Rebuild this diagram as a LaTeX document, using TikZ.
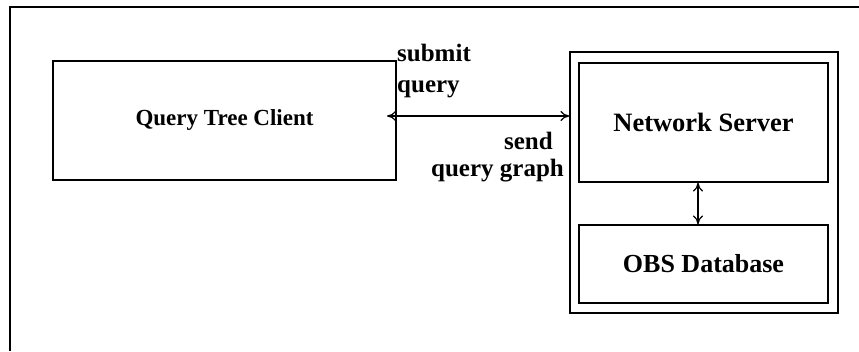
\documentclass[tikz,border=0pt]{standalone}
\usepackage{fontspec}
\setmainfont{Liberation Serif}
\usetikzlibrary{arrows.meta}
\begin{document}
\begin{tikzpicture}[x=1pt,y=1pt,
  box/.style={draw,line width=1.1pt,inner sep=0pt},
  lbl/.style={inner sep=0pt,font=\bfseries\fontsize{25}{29}\selectfont},
  link/.style={line width=1.2pt,{To[length=9pt,width=10pt]}-{To[length=9pt,width=10pt]}}]
\useasboundingbox (0,0) rectangle (859,351);
% frame around the whole figure
\draw[line width=1.4pt] (859,344) -- (10,344) -- (10,0);
% client
\node[box,minimum width=343pt,minimum height=119pt,font=\bfseries\fontsize{23}{27}\selectfont] (client) at (224.5,230.5) {Query Tree Client};
% server side
\node[box,minimum width=268pt,minimum height=261pt] (server) at (704,168.5) {};
\node[box,minimum width=249pt,minimum height=119pt,font=\bfseries\fontsize{26.5}{30}\selectfont] (net) at (703.5,228.5) {Network Server};
\node[box,minimum width=249pt,minimum height=78pt,font=\bfseries\fontsize{26}{30}\selectfont] (obs) at (703.5,87) {OBS Database};
% connectors
\coordinate (cl) at (387,235);
\draw[link] (cl) -- (cl -| server.west);
\draw[link] (698,0 |- net.south) -- (698,0 |- obs.north);
% labels
\node[lbl,anchor=base west] (sub) at (397,289) {submit};
\node[lbl,anchor=base west] (q1) at (397,258) {query};
\node[lbl,anchor=base east] (snd) at (553,201) {send};
\node[lbl,anchor=base east] (qg) at (564,174) {query graph};
\end{tikzpicture}
\end{document}
